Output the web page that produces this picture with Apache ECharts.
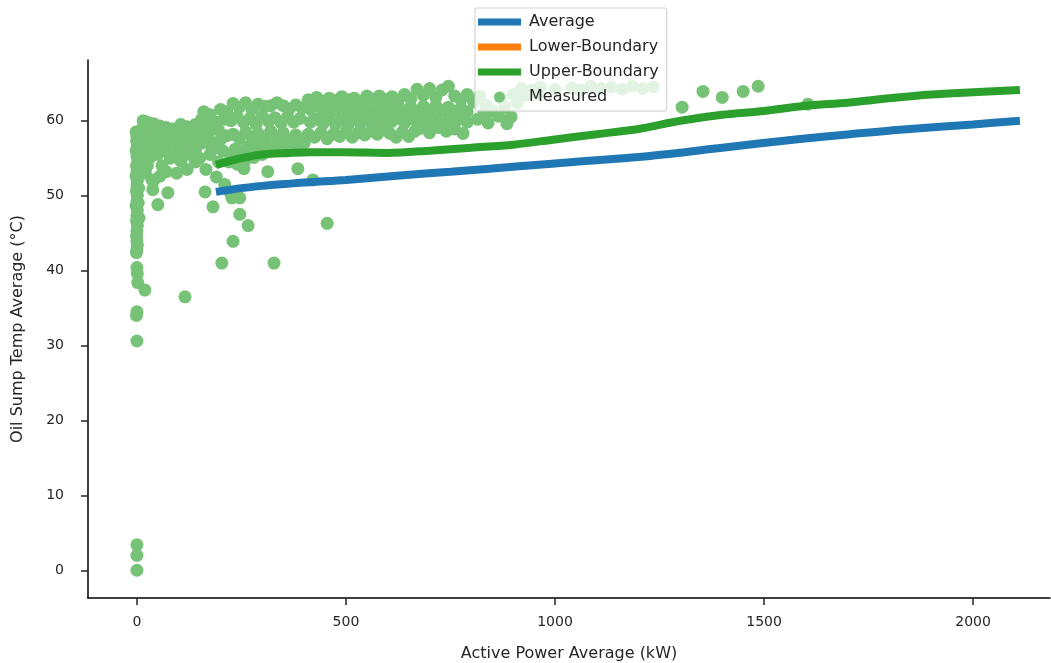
<!DOCTYPE html>
<html>
<head>
<meta charset="utf-8">
<script src="https://cdn.jsdelivr.net/npm/echarts@6/dist/echarts.min.js"></script>
<style>
html,body{margin:0;padding:0;background:#fff;}
#chart{width:1051px;height:663px;}
</style>
</head>
<body>
<div id="chart"></div>
<script>
// ---- data ----
const xTicks = [0, 500, 1000, 1500, 2000];
const yTicks = [0, 10, 20, 30, 40, 50, 60];

const averageX = [189, 250, 300, 366, 414, 500, 629, 750, 843, 1000, 1227, 1400, 1575, 1706, 1825, 2000, 2112];
const averageY = [50.5, 51.0, 51.3, 51.6, 51.8, 52.1, 52.7, 53.2, 53.6, 54.3, 55.3, 56.4, 57.5, 58.2, 58.8, 59.5, 60.0];

const upperX = [189, 250, 300, 366, 414, 500, 600, 700, 800, 900, 1000, 1100, 1200, 1300, 1400, 1500, 1600, 1700, 1800, 1900, 2000, 2112];
const upperY = [54.1, 55.0, 55.5, 55.7, 55.8, 55.8, 55.7, 56.0, 56.4, 56.8, 57.5, 58.2, 58.9, 60.0, 60.8, 61.3, 62.0, 62.4, 63.0, 63.5, 63.8, 64.1];

const lowerX = [];
const lowerY = [];

const measured = [
  // strip at ~0 kW
  [-2,58.5],[0,58],[-1,57.3],[1,56.6],[-2,56],[0,55.3],[2,54.7],[-1,54],[0,53.3],[-2,52.6],[1,52],[0,51.3],
  [-1,50.6],[1,50],[0,49.3],[-2,48.6],[1,48],[0,47.3],[-1,46.6],[1,46],[0,45.3],[-1,44.6],[0,44],[1,43.4],
  [0,42.8],[-1,42.4],[3,57],[4,55],[3,53],[4,51],[3,49],[5,47],
  [0,40.4],[1,39.6],[2,38.4],[19,37.4],[0,34.5],[-1,34.0],[0,30.6],[0,3.4],[0,2.0],[0,0.0],[115,36.5],
  // lower scattered points
  [36,52.1],[38,50.8],[50,48.8],[74,50.4],[120,53.5],[163,50.5],[182,48.5],[246,47.5],[266,46.0],[230,43.9],
  [203,41.0],[328,41.0],[455,46.3],[385,53.6],[313,53.2],[256,53.6],[227,49.7],[246,49.7],[421,52.1],
  [40,52],[60,54],[30,55],[45,56.5],[80,55],[95,53],[140,54.5],[165,53.5],[190,52.5],[210,51.5],[222,50.5],
  // cluster 10-220 kW
  [15,60],[25,59.8],[40,59.6],[55,59.3],[70,59.1],[85,58.9],[100,58.8],[20,58.5],[35,58],[50,57.7],[65,57.5],
  [80,57],[95,56.8],[110,57.5],[125,58],[140,59.5],[155,60.2],[160,61.2],[175,60.8],[190,59.8],[200,61.5],
  [215,61.2],[140,56],[155,57],[170,58],[185,57],[120,55.5],[135,57.5],[150,55],[175,55.5],[195,54.5],
  [205,56],[215,58],[20,57],[60,56],[10,56],[25,54],
  [10,58.8],[30,58.8],[45,58.5],[60,58.3],[75,58],[90,57.8],[15,57.8],[30,56.5],[50,55.5],[70,56.2],
  [85,56.8],[100,55.8],[110,56.5],[120,57.2],[130,56],[105,59.5],[120,59.2],[135,58.6],[150,58.3],[165,59.3],
  [180,59.2],[195,58.8],[210,60.2],[180,56.2],[200,57.5],[10,54],[20,53],[55,52.6],[70,53.2],[105,54.6],
  // 220-400 kW
  [230,62.3],[245,61.8],[260,62.4],[275,61.5],[290,62.2],[305,61.9],[320,62],[335,62.4],[350,62],[365,61.6],[380,62.1],[395,61.7],
  [225,60],[240,60.5],[255,59.8],[270,60.3],[285,59.5],[300,60.6],[315,59.9],[330,60.4],[345,59.7],[360,60.5],[375,59.8],[390,60.3],
  [230,58.2],[245,57.6],[260,58.5],[275,57.8],[290,58.3],[305,57.5],[320,58.6],[335,57.7],[350,58.4],[365,57.3],[380,58.1],[395,57.5],
  [235,56.2],[250,55.9],[265,56.5],[280,56.2],[295,56.8],[310,56.3],[325,56.6],[340,56.9],[355,56.1],[370,56.5],[385,56.8],[400,57],
  [220,54.5],[240,54.2],[260,54.8],[280,55.1],[300,55.5],[225,55.5],
  // 400-600 kW
  [410,62.8],[430,63.1],[445,62.6],[460,63.0],[475,62.7],[490,63.2],[505,62.8],[520,63.0],[535,62.6],[550,63.3],[565,62.9],[580,63.3],[595,62.8],
  [415,61.5],[430,62],[445,61.2],[460,61.8],[475,61.3],[490,61.9],[505,61.1],[520,61.8],[535,61.2],[550,61.9],[565,61.1],[580,61.7],[595,61.2],
  [415,59.8],[430,60.2],[445,59.6],[460,60.3],[475,59.5],[490,60.1],[505,59.4],[520,60.2],[535,59.6],[550,60.2],[565,59.5],[580,60.1],[595,59.7],
  [410,58.2],[425,57.8],[440,58.4],[455,57.6],[470,58.2],[485,57.9],[500,58.5],[515,57.8],[530,58.4],[545,58.1],[560,58.6],[575,58.2],[590,58.8],
  // 600-800 kW
  [610,63.2],[625,62.7],[640,63.5],[655,62.9],[670,64.2],[685,63.4],[700,64.3],[715,63.1],[730,64.1],[745,64.6],[760,63.3],[775,62.8],[790,63.5],
  [610,61.5],[625,62],[640,61.3],[655,61.8],[670,61.2],[685,61.9],[700,61.4],[715,62],[730,61.3],[745,61.8],[760,61.2],[775,61.7],[790,61.2],
  [610,59.9],[625,60.4],[640,59.7],[655,60.3],[670,59.8],[685,60.4],[700,59.6],[715,60.2],[730,59.5],[745,60.1],[760,59.7],[775,60.3],[790,59.8],
  [605,58.3],[620,57.8],[635,58.5],[650,57.9],[665,58.6],[680,59],[700,58.4],[720,59.1],[740,58.6],[760,58.9],[780,58.3],
  // 800-920 kW
  [805,62.5],[820,63.3],[835,62.1],[850,61.3],[865,60.6],[880,61.8],[895,60.5],[910,62.4],[815,60.2],[840,59.7],
  [830,61],[870,63],[900,63.5],[885,59.6],
  // under the legend
  [920,64.3],[945,64.1],[965,64.5],[1000,64.2],[1040,64.4],[1060,64.1],[1085,64.6],[1110,64.3],[1135,64.5],
  [1160,64.2],[1185,64.6],[1210,64.3],[1235,64.5],[930,63.4],[960,63.6],
  // right outliers
  [1304,61.8],[1354,63.9],[1400,63.1],[1450,63.9],[1486,64.6],[1605,62.2]
];

// ---- chart ----
const zip = (xs, ys) => xs.map((x, i) => [x, ys[i]]);
const txt = '#262626';
const font = 'DejaVu Sans';

const chart = echarts.init(document.getElementById('chart'), null, {renderer: 'canvas'});
const linePath = 'path://M0,0 L0,0 M0,11 L0,11 M0,2 L43,2 L43,9 L0,9 Z';

chart.setOption({
  animation: false,
  backgroundColor: '#fff',
  textStyle: {fontFamily: font},
  grid: {left: 88, right: 1, top: 60, bottom: 65, containLabel: false, outerBoundsMode: 'none'},
  legend: {
    orient: 'vertical',
    left: 475, top: 8,
    padding: [6, 8, 6, 3],
    itemWidth: 43, itemHeight: 11, itemGap: 9,
    backgroundColor: 'rgba(255,255,255,0.8)',
    borderColor: '#cccccc', borderWidth: 1, borderRadius: 2,
    textStyle: {fontFamily: font, fontSize: 16, color: txt, padding: [0, 0, 0, 3]},
    data: [
      {name: 'Average', icon: linePath},
      {name: 'Lower-Boundary', icon: linePath, itemStyle: {color: '#ff7f0e'}},
      {name: 'Upper-Boundary', icon: linePath},
      {name: 'Measured', icon: 'circle'}
    ],
    z: 10
  },
  xAxis: {
    type: 'value', min: -117, max: 2184,
    name: 'Active Power Average (kW)', nameLocation: 'middle', nameGap: 48,
    nameTextStyle: {fontFamily: font, fontSize: 16, color: txt},
    splitLine: {show: false},
    axisLine: {onZero: false, lineStyle: {color: '#000', width: 1.5}},
    axisTick: {show: true, length: 7, lineStyle: {color: txt, width: 1.5}, customValues: xTicks},
    axisLabel: {fontFamily: font, fontSize: 14, color: txt, margin: 17, customValues: xTicks,
      formatter: v => String(v)}
  },
  yAxis: {
    type: 'value', min: -3.7, max: 68.1,
    name: 'Oil Sump Temp Average (°C)', nameLocation: 'middle', nameGap: 62,
    nameTextStyle: {fontFamily: font, fontSize: 16, color: txt},
    splitLine: {show: false},
    axisLine: {show: true, onZero: false, lineStyle: {color: '#000', width: 1.5}},
    axisTick: {show: true, length: 7, lineStyle: {color: txt, width: 1.5}, customValues: yTicks},
    axisLabel: {fontFamily: font, fontSize: 14, color: txt, margin: 24, customValues: yTicks,
      formatter: v => String(v)}
  },
  series: [
    {
      name: 'Measured', type: 'scatter', data: measured,
      symbolSize: 13, itemStyle: {color: '#76c276', opacity: 1}, z: 2
    },
    {
      name: 'Average', type: 'line', data: zip(averageX, averageY),
      showSymbol: false, symbol: 'none', smooth: 0.3,
      lineStyle: {color: '#1f77b4', width: 8, cap: 'butt'}, itemStyle: {color: '#1f77b4'}, z: 3
    },
    {
      name: 'Lower-Boundary', type: 'line', data: zip(lowerX, lowerY),
      showSymbol: false, symbol: 'none',
      lineStyle: {color: '#ff7f0e', width: 8}, itemStyle: {color: '#ff7f0e'}, z: 3
    },
    {
      name: 'Upper-Boundary', type: 'line', data: zip(upperX, upperY),
      showSymbol: false, symbol: 'none', smooth: 0.3,
      lineStyle: {color: '#2ca02c', width: 8, cap: 'butt'}, itemStyle: {color: '#2ca02c'}, z: 3
    }
  ]
});
</script>
</body>
</html>
